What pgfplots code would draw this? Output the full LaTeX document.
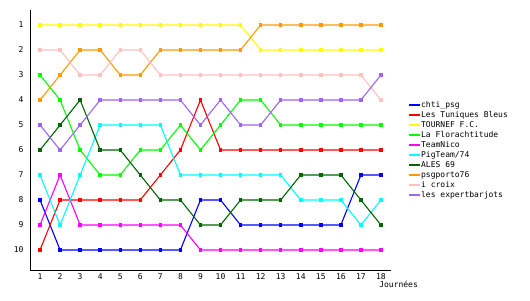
\documentclass[border=0pt]{standalone}
\usepackage{pgfplots}
\pgfplotsset{compat=1.18}
\usepackage{pgfplotstable}
\usepackage{fontspec}
\setmainfont{DejaVu Sans Mono}
\definecolor{cblue}{RGB}{0,0,255}
\definecolor{cred}{RGB}{255,0,0}
\definecolor{cyellow}{RGB}{255,255,0}
\definecolor{cgreen}{RGB}{0,255,0}
\definecolor{cmagenta}{RGB}{255,0,255}
\definecolor{ccyan}{RGB}{0,255,255}
\definecolor{cdkgreen}{RGB}{0,102,0}
\definecolor{corange}{RGB}{255,153,0}
\definecolor{cpink}{RGB}{255,192,192}
\definecolor{cpurple}{RGB}{160,100,245}
\pgfplotstableread{
x blue red yellow green magenta cyan dkgreen orange pink purple
1  8 10 1 3 9 7 6 4 2 5
2 10  8 1 4 7 9 5 3 2 6
3 10  8 1 6 9 7 4 2 3 5
4 10  8 1 7 9 5 6 2 3 4
5 10  8 1 7 9 5 6 3 2 4
6 10  8 1 6 9 5 7 3 2 4
7 10  7 1 6 9 5 8 2 3 4
8 10  6 1 5 9 7 8 2 3 4
9  8  4 1 6 10 7 9 2 3 5
10 8  6 1 5 10 7 9 2 3 4
11 9  6 1 4 10 7 8 2 3 5
12 9  6 2 4 10 7 8 1 3 5
13 9  6 2 5 10 7 8 1 3 4
14 9  6 2 5 10 8 7 1 3 4
15 9  6 2 5 10 8 7 1 3 4
16 9  6 2 5 10 8 7 1 3 4
17 7  6 2 5 10 9 8 1 3 4
18 7  6 2 5 10 8 9 1 4 3
}\ranks
\begin{document}
\begin{tikzpicture}[x=1pt,y=1pt]
\useasboundingbox (0,0) rectangle (530,300);
\begin{axis}[
  at={(30pt,30pt)}, anchor=south west,
  scale only axis, width=361pt, height=260pt,
  xmin=0.5, xmax=18.5, ymin=0.4, ymax=10.8,
  y dir=reverse,
  axis line style={draw=none},
  major tick length=0pt,
  xtick={1,...,18}, ytick={1,...,10},
  tick label style={font=\fontsize{8}{9}\selectfont},
  yticklabel style={xshift=-3pt},
  /pgf/number format/assume math mode=true,
  clip=false,
  every axis plot/.append style={line width=1.1pt, mark=square*, mark size=1.2pt, mark options={solid}},
  legend style={draw=none, fill=none, at={(axis description cs:1.047,0.65)}, anchor=north west,
    font=\fontsize{8}{9}\selectfont, inner sep=0pt, row sep=0pt,
    nodes={inner sep=0pt, text height=6.5pt, text depth=3.5pt}},
  legend cell align=left,
  legend image code/.code={\draw[line width=2pt] (0pt,1.5pt) -- (11pt,1.5pt);},
  /tikz/every even column/.append style={column sep=3pt},
]
\addplot[cblue] table[x=x,y=blue] {\ranks};
\addlegendentry{chti\_psg}
\addplot[cred] table[x=x,y=red] {\ranks};
\addlegendentry{Les Tuniques Bleus}
\addplot[cyellow] table[x=x,y=yellow] {\ranks};
\addlegendentry{TOURNEF F.C.}
\addplot[cgreen] table[x=x,y=green] {\ranks};
\addlegendentry{La Florachtitude}
\addplot[cmagenta] table[x=x,y=magenta] {\ranks};
\addlegendentry{TeamNico}
\addplot[ccyan] table[x=x,y=cyan] {\ranks};
\addlegendentry{PigTeam/74}
\addplot[cdkgreen] table[x=x,y=dkgreen] {\ranks};
\addlegendentry{ALES 69}
\addplot[corange] table[x=x,y=orange] {\ranks};
\addlegendentry{psgporto76}
\addplot[cpink] table[x=x,y=pink] {\ranks};
\addlegendentry{i croix}
\addplot[cpurple] table[x=x,y=purple] {\ranks};
\addlegendentry{les expertbarjots}
\draw[black, line width=1pt] (axis description cs:0,1) -- (axis description cs:0,0) -- (axis description cs:1,0);
\node[anchor=west, font=\fontsize{8}{9}\selectfont, inner sep=0pt] at (axis description cs:0.967,-0.054) {Journées};
\end{axis}
\end{tikzpicture}
\end{document}
